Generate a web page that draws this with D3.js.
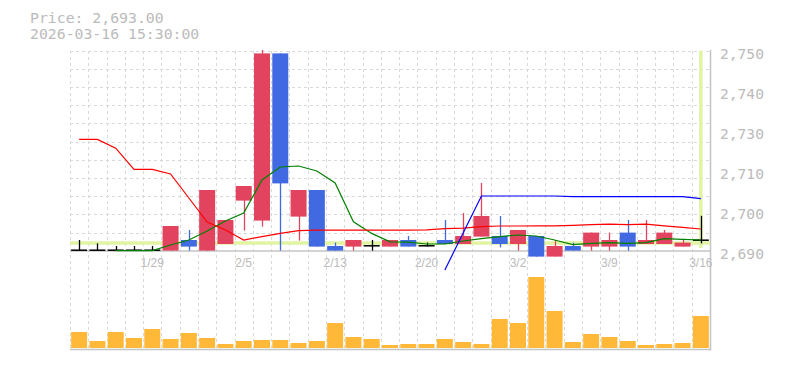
<!DOCTYPE html>
<html>
<head>
<meta charset="utf-8">
<script src="https://cdn.jsdelivr.net/npm/d3@7"></script>
<style>
  body { margin: 0; background: #fff; }
</style>
</head>
<body>
<script>
// DATA //
const dates = ['1/23', '1/26', '1/27', '1/28', '1/29', '1/30', '2/2', '2/3', '2/4', '2/5',
    '2/6', '2/9', '2/10', '2/12', '2/13', '2/16', '2/17', '2/18', '2/19', '2/20',
    '2/24', '2/25', '2/26', '2/27', '3/2', '3/3', '3/4', '3/5', '3/6', '3/9',
    '3/10', '3/11', '3/12', '3/13', '3/16'];

const opens = [2690.7, 2690.7, 2690.7, 2690.7, 2690.7, 2690.6, 2693.25, 2690.6, 2692.25, 2703.1,
    2698.1, 2739.9, 2699.1, 2705.75, 2691.75, 2691.6, 2691.8, 2691.6, 2693.25, 2691.8,
    2693.25, 2692.25, 2694.1, 2694.25, 2692.25, 2694.25, 2689.1, 2691.75, 2691.6, 2691.6,
    2695.1, 2692.25, 2692.25, 2691.6, 2693.2];
const highs = [2693.25, 2692.4, 2691.75, 2691.75, 2691.75, 2696.75, 2695.75, 2705.75, 2698.25, 2706.75,
    2740.75, 2739.9, 2705.75, 2705.75, 2692.6, 2693.25, 2693.25, 2693.25, 2694.25, 2692.6,
    2698.25, 2700, 2707.5, 2699.25, 2695.75, 2694.25, 2693.25, 2692.6, 2695.1, 2695.1,
    2698.25, 2698.25, 2695.75, 2693.25, 2699.3];
const lows = [2690.7, 2690.7, 2690.7, 2690.7, 2690.7, 2690.6, 2690.6, 2690.6, 2692.25, 2695.6,
    2696.6, 2690.6, 2693.1, 2691.6, 2690.6, 2690.6, 2690.6, 2691.6, 2691.6, 2691.6,
    2692.25, 2692.25, 2694.1, 2691.4, 2690.6, 2689.1, 2689.1, 2690.6, 2690.6, 2690.6,
    2690.6, 2692.25, 2692.25, 2691.6, 2692.4];
const closes = [2690.7, 2690.7, 2690.7, 2690.7, 2690.7, 2696.75, 2691.6, 2705.75, 2698.25, 2706.75,
    2739.9, 2707.4, 2705.75, 2691.6, 2690.6, 2693.25, 2691.8, 2693.25, 2691.6, 2691.8,
    2692.25, 2694.25, 2699.25, 2692.25, 2695.75, 2689.1, 2691.75, 2690.6, 2695.1, 2693.25,
    2691.6, 2693.25, 2695.1, 2692.6, 2693.2];

// moving averages (green = short, red = middle, blue = long)
const maShort = [null, null, 2690.6, 2690.6, 2690.6, 2692, 2693.25, 2695.5, 2698, 2700,
    2708.25, 2711.5, 2711.75, 2710.5, 2707.5, 2697.8, 2694.9, 2692.8, 2692.7, 2692.25,
    2692.25, 2693, 2693.6, 2694.1, 2694.5, 2694.25, 2693.25, 2692.1, 2692.4, 2692.6,
    2692.4, 2692.6, 2693.6, 2693.4, 2693.25];
const maMid = [2718.4, 2718.4, 2716.2, 2710.9, 2710.9, 2709.75, 2703.75, 2697.75, 2695.75, 2693.25,
    2694.1, 2694.9, 2695.6, 2695.7, 2695.7, 2695.7, 2695.7, 2695.7, 2695.7, 2695.8,
    2696.1, 2696.2, 2696.6, 2696.75, 2696.75, 2696.8, 2696.8, 2696.9, 2697.1, 2697.2,
    2697.1, 2697.2, 2696.8, 2696.4, 2696];
const maLong = [null, null, null, null, null, null, null, null, null, null,
    null, null, null, null, null, null, null, null, null, null,
    2685.75, 2695, 2704.25, 2704.25, 2704.25, 2704.25, 2704.25, 2704.1, 2704.1, 2704.1,
    2704.1, 2704.1, 2704.1, 2704.1, 2703.6];

const volumes = [16, 7, 16, 10, 19, 9, 15, 10, 4, 7,
    8, 8, 5, 7, 25, 11, 9, 3, 4, 4,
    9, 6, 4, 29, 25, 71, 37, 6, 14, 11,
    7, 3, 4, 5, 32];

const dateTicks = ['1/29', '2/5', '2/13', '2/20', '3/2', '3/9', '3/16'];
const priceTicks = [2740, 2730, 2720, 2710, 2700, 2690];
const priceTickLabels = ['2,750', '2,740', '2,730', '2,710', '2,700', '2,690'];

const lastPrice = 2693;
const lastTime = '2026-03-16 15:30:00';
const crossPrice = 2692.5;

// LAYOUT //
const width = 785, height = 370;
const left = 70, right = 710;
const priceTop = 50.7, priceBottom = 250.7;
const volTop = 258, volBottom = 348;

const red = '#e2445f', blue = '#4169e1', textGray = '#bbbbbb', gridGray = '#d9d9d9', axisGray = '#c4c4c4';

const svg = d3.select('body')
    .append('svg')
    .attr('width', width)
    .attr('height', height);

// SCALES //
const x = d3.scaleBand()
    .domain(d3.range(dates.length))
    .range([left, right])
    .paddingInner(0.125)
    .paddingOuter(0.0625);

const y = d3.scaleLinear()
    .domain([2690, 2740])
    .range([253, 53]);

const yVol = d3.scaleLinear()
    .domain([0, 90])
    .range([volBottom, volTop]);

const cx = i => x(i) + x.bandwidth() / 2;

// GRID //
const grid = svg.append('g')
    .attr('stroke', gridGray)
    .attr('stroke-dasharray', '3,3')
    .attr('shape-rendering', 'crispEdges');

// horizontal dashed lines of the price panel
grid.selectAll('line.h')
    .data(d3.range(11))
    .join('line')
    .attr('x1', left)
    .attr('x2', right)
    .attr('y1', d => priceTop + d * (priceBottom - priceTop) / 11 + 0.5)
    .attr('y2', d => priceTop + d * (priceBottom - priceTop) / 11 + 0.5);

// vertical dashed lines on every day boundary
grid.selectAll('line.v')
    .data(d3.range(dates.length))
    .join('line')
    .attr('x1', d => Math.round(x(d) - x.step() * x.paddingInner() / 2) + 0.5)
    .attr('x2', d => Math.round(x(d) - x.step() * x.paddingInner() / 2) + 0.5)
    .attr('y1', priceTop)
    .attr('y2', volBottom);

// AXES LINES //
svg.append('line')
    .attr('x1', left).attr('x2', right)
    .attr('y1', 251).attr('y2', 251)
    .attr('stroke', axisGray).attr('stroke-width', 1.5);
svg.append('line')
    .attr('x1', left).attr('x2', right)
    .attr('y1', 349.5).attr('y2', 349.5)
    .attr('stroke', axisGray).attr('stroke-width', 1.5);
svg.append('line')
    .attr('x1', right + 0.5).attr('x2', right + 0.5)
    .attr('y1', priceTop - 1).attr('y2', 350.5)
    .attr('stroke', axisGray).attr('stroke-width', 1.5);

// CROSSHAIR //
const last = dates.length - 1;
svg.append('line')
    .attr('x1', left).attr('x2', right)
    .attr('y1', y(crossPrice)).attr('y2', y(crossPrice))
    .attr('stroke', '#e0f4a2').attr('stroke-width', 3.5);
svg.append('line')
    .attr('x1', cx(last)).attr('x2', cx(last))
    .attr('y1', priceTop).attr('y2', 248)
    .attr('stroke', '#e0f4a2').attr('stroke-width', 3.5);

// CANDLES //
const candles = d3.range(dates.length).map(i => ({
    i: i, o: opens[i], h: highs[i], l: lows[i], c: closes[i]
}));
const candleColor = d => d.c > d.o ? red : (d.c < d.o ? blue : '#000');

const cg = svg.append('g');

cg.selectAll('line.wick')
    .data(candles)
    .join('line')
    .attr('x1', d => Math.round(cx(d.i)) + 0.5)
    .attr('x2', d => Math.round(cx(d.i)) + 0.5)
    .attr('y1', d => y(d.h))
    .attr('y2', d => y(d.l))
    .attr('stroke', candleColor)
    .attr('stroke-width', 1.3);

cg.selectAll('rect.body')
    .data(candles.filter(d => d.c !== d.o))
    .join('rect')
    .attr('x', d => x(d.i))
    .attr('width', x.bandwidth())
    .attr('y', d => y(Math.max(d.o, d.c)))
    .attr('height', d => Math.abs(y(d.o) - y(d.c)))
    .attr('fill', candleColor);

// doji marks
cg.selectAll('line.doji')
    .data(candles.filter(d => d.c === d.o))
    .join('line')
    .attr('x1', d => x(d.i))
    .attr('x2', d => x(d.i) + x.bandwidth())
    .attr('y1', d => y(d.c))
    .attr('y2', d => y(d.c))
    .attr('stroke', '#000')
    .attr('stroke-width', 1.5);

// MOVING AVERAGES //
const line = d3.line()
    .defined(d => d[1] != null)
    .x(d => cx(d[0]))
    .y(d => y(d[1]));

[[maShort, 'green'], [maMid, '#ff0000'], [maLong, '#0000ff']].forEach(function (s) {
    svg.append('path')
        .attr('d', line(s[0].map((v, i) => [i, v])))
        .attr('fill', 'none')
        .attr('stroke', s[1])
        .attr('stroke-width', 1.2);
});

// VOLUME //
svg.append('g')
    .selectAll('rect')
    .data(volumes)
    .join('rect')
    .attr('x', (d, i) => x(i))
    .attr('width', x.bandwidth())
    .attr('y', d => yVol(d))
    .attr('height', d => yVol(0) - yVol(d))
    .attr('fill', '#ffb838');

// LABELS //
const yAxis = d3.axisRight(y)
    .tickValues(priceTicks)
    .tickFormat((d, i) => priceTickLabels[i])
    .tickSize(0)
    .tickPadding(10);

svg.append('g')
    .attr('transform', `translate(${right}, 0)`)
    .call(yAxis)
    .call(g => g.select('.domain').remove())
    .call(g => g.selectAll('text')
        .attr('fill', textGray)
        .attr('dy', '0.35em')
        .style('font-family', '"DejaVu Sans Mono", monospace')
        .style('font-size', '14.6px'));

svg.append('g')
    .selectAll('text')
    .data(dateTicks)
    .join('text')
    .text(d => d)
    .attr('x', d => cx(dates.indexOf(d)))
    .attr('y', 267)
    .attr('text-anchor', 'middle')
    .attr('fill', textGray)
    .style('font-family', '"Liberation Sans", Arial, sans-serif')
    .style('font-size', '12px');

// TITLE //
svg.selectAll('text.title')
    .data(['Price: ' + d3.format(',.2f')(lastPrice), lastTime])
    .join('text')
    .text(d => d)
    .attr('x', 30)
    .attr('y', (d, i) => 23 + i * 15.5)
    .attr('fill', textGray)
    .style('font-family', '"DejaVu Sans Mono", monospace')
    .style('font-size', '14.8px');
</script>
</body>
</html>
